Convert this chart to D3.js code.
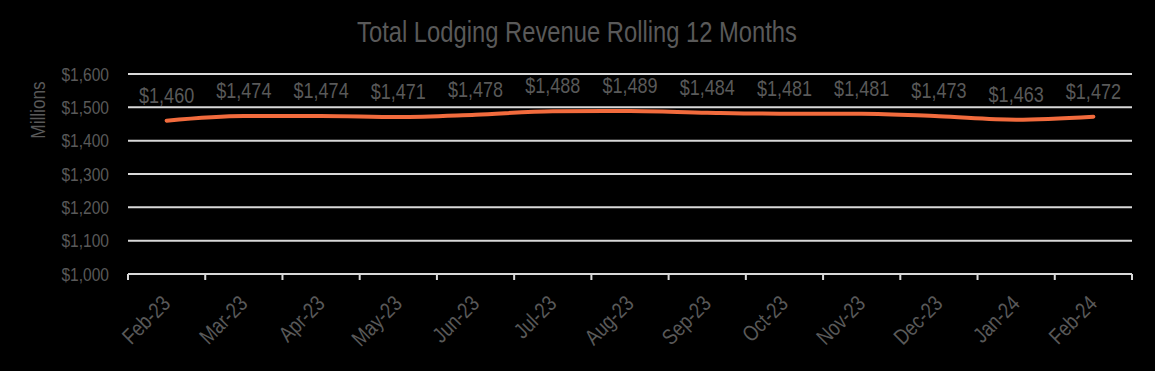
<!DOCTYPE html>
<html lang="en">
<head>
<meta charset="utf-8">
<title>Total Lodging Revenue Rolling 12 Months</title>
<script src="https://cdnjs.cloudflare.com/ajax/libs/d3/7.8.5/d3.min.js"></script>
<style>
  html, body { margin: 0; padding: 0; background: #000; }
  svg { display: block; }
  text { font-family: "Liberation Sans", Arial, sans-serif; }
</style>
</head>
<body>
<div id="chart"></div>
<script>
// data
var months = ["Feb-23", "Mar-23", "Apr-23", "May-23", "Jun-23", "Jul-23", "Aug-23",
              "Sep-23", "Oct-23", "Nov-23", "Dec-23", "Jan-24", "Feb-24"];
var revenue = [1460, 1474, 1474, 1471, 1478, 1488, 1489, 1484, 1481, 1481, 1473, 1463, 1472];
var yTicks = [1000, 1100, 1200, 1300, 1400, 1500, 1600];

var W = 1155, H = 371;
var margin = {top: 74, right: 23, bottom: 97, left: 128};
var width = W - margin.left - margin.right;
var height = H - margin.top - margin.bottom;

var textColor = "#595959";
var narrow = " scale(0.82,1)"; // fake Arial Narrow look

var svg = d3.select("#chart").append("svg")
  .attr("width", W)
  .attr("height", H);

svg.append("rect").attr("width", W).attr("height", H).attr("fill", "#000");

var g = svg.append("g")
  .attr("transform", "translate(" + margin.left + "," + margin.top + ")");

var x = d3.scaleBand().domain(months).range([0, width]);
var y = d3.scaleLinear().domain([1000, 1600]).range([height, 0]);
var cx = function(m) { return x(m) + x.bandwidth() / 2; };

// gridlines
g.selectAll(".grid")
  .data(yTicks.slice(1))
  .enter().append("line")
  .attr("class", "grid")
  .attr("x1", 0).attr("x2", width)
  .attr("y1", function(d) { return y(d); })
  .attr("y2", function(d) { return y(d); })
  .attr("stroke", "#d9d9d9")
  .attr("stroke-width", 2);

// y axis labels
var fmt = d3.format("$,");
g.selectAll(".ylab")
  .data(yTicks)
  .enter().append("text")
  .attr("class", "ylab")
  .attr("transform", function(d) { return "translate(-19," + y(d) + ")" + narrow; })
  .attr("dy", "0.35em")
  .attr("text-anchor", "end")
  .attr("fill", textColor)
  .style("font-size", "19px")
  .text(function(d) { return fmt(d); });

// x axis: baseline with ticks on category boundaries
g.append("line")
  .attr("x1", 0).attr("x2", width)
  .attr("y1", height).attr("y2", height)
  .attr("stroke", "#d9d9d9")
  .attr("stroke-width", 2);

var bounds = months.map(function(m) { return x(m); }).concat([width]);
g.selectAll(".xtick")
  .data(bounds)
  .enter().append("line")
  .attr("class", "xtick")
  .attr("x1", function(d) { return d; })
  .attr("x2", function(d) { return d; })
  .attr("y1", height).attr("y2", height + 6)
  .attr("stroke", "#d9d9d9")
  .attr("stroke-width", 2);

g.selectAll(".xlab")
  .data(months)
  .enter().append("text")
  .attr("class", "xlab")
  .attr("transform", function(d) {
    return "translate(" + (cx(d) + 5) + "," + (height + 31) + ") rotate(-45)" + narrow;
  })
  .attr("text-anchor", "end")
  .attr("fill", textColor)
  .style("font-size", "22px")
  .text(function(d) { return d; });

// line
var line = d3.line()
  .x(function(d, i) { return cx(months[i]); })
  .y(function(d) { return y(d); })
  .curve(d3.curveMonotoneX);

g.append("path")
  .datum(revenue)
  .attr("d", line)
  .attr("fill", "none")
  .attr("stroke", "#f26b3d")
  .attr("stroke-width", 4)
  .attr("stroke-linecap", "round");

// data labels
g.selectAll(".vlab")
  .data(revenue)
  .enter().append("text")
  .attr("class", "vlab")
  .attr("transform", function(d, i) {
    return "translate(" + cx(months[i]) + "," + (y(d) - 18) + ")" + narrow;
  })
  .attr("text-anchor", "middle")
  .attr("fill", textColor)
  .style("font-size", "22px")
  .text(function(d) { return fmt(d); });

// title
svg.append("text")
  .attr("transform", "translate(577,42)" + narrow)
  .attr("text-anchor", "middle")
  .attr("fill", textColor)
  .style("font-size", "29px")
  .text("Total Lodging Revenue Rolling 12 Months");

// y axis title
svg.append("text")
  .attr("transform", "translate(45,110) rotate(-90)" + narrow)
  .attr("text-anchor", "middle")
  .attr("fill", textColor)
  .style("font-size", "21px")
  .text("Millions");
</script>
</body>
</html>
